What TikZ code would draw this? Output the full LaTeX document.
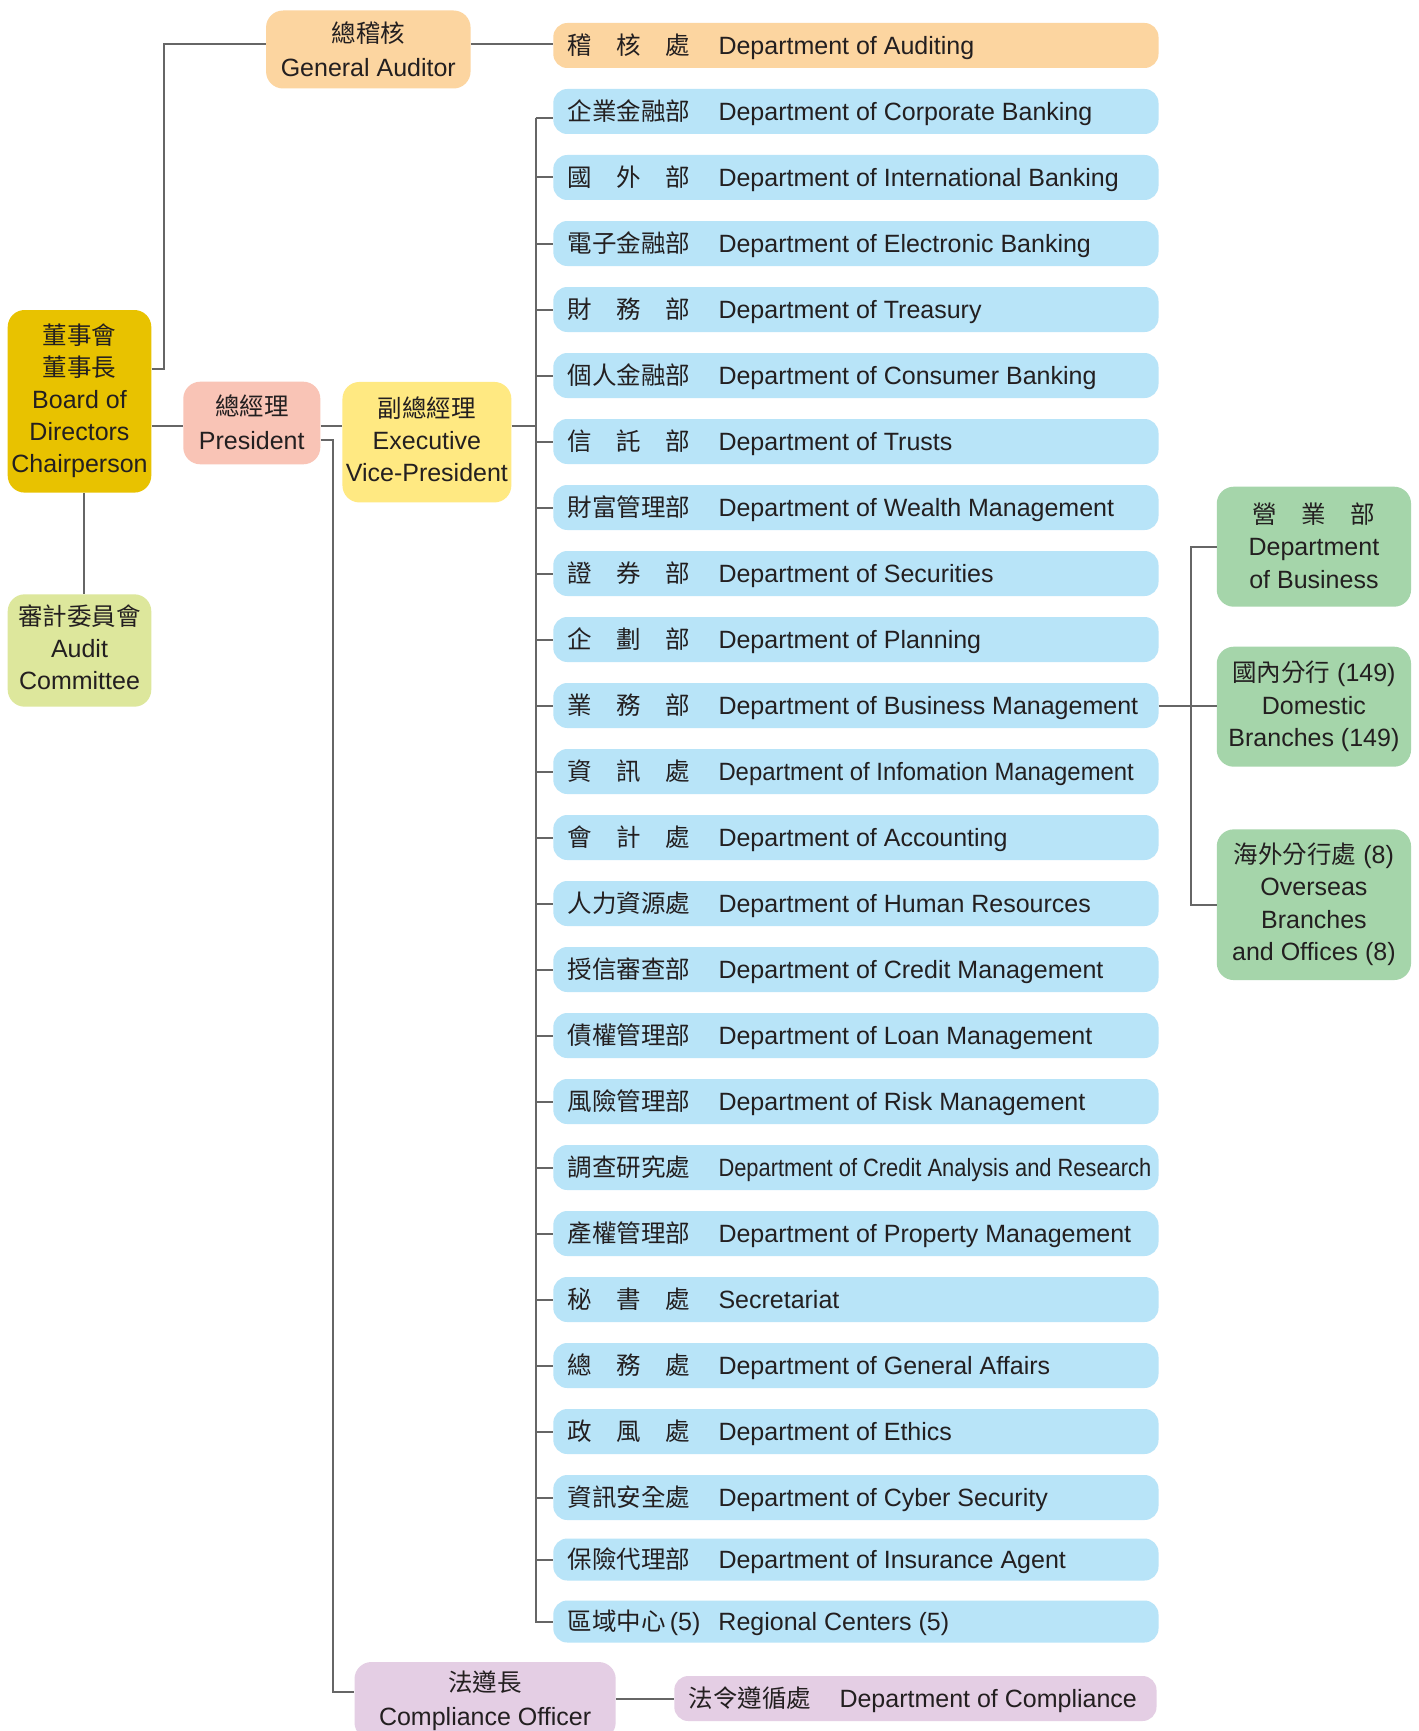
\documentclass[tikz,border=0pt]{standalone}
\usepackage{fontspec}
\usepackage{graphicx}
\setmainfont{Liberation Sans}
\newfontfamily\cjkfont{Noto Sans CJK TC}
\definecolor{tcol}{HTML}{231F20}
\definecolor{lcol}{HTML}{666666}
\definecolor{cBoard}{HTML}{E8C200}
\definecolor{cAC}{HTML}{DDE79C}
\definecolor{cOr}{HTML}{FCD5A0}
\definecolor{cPres}{HTML}{F9C4B6}
\definecolor{cEvp}{HTML}{FFE982}
\definecolor{cBlue}{HTML}{B8E4F8}
\definecolor{cGreen}{HTML}{A5D5AA}
\definecolor{cPur}{HTML}{E4CEE4}
\newcommand\zh[1]{{\cjkfont\fontsize{24.5}{32}\selectfont #1}}
\newcommand\tri[3]{\hbox to 122.5pt{#1\hfil #2\hfil #3}}
\newcommand\drow[3]{\hbox to #1{\hskip14.4pt\hbox to 150.8pt{\zh{#2}\hss}#3\hss}}
\newcommand\st{\rule[-6pt]{0pt}{24pt}}
\newcommand\sth[1]{\rule[-6pt]{0pt}{#1}}
\begin{document}
\begin{tikzpicture}[x=1pt,y=-1pt,
  box/.style={rounded corners=17pt, inner sep=0pt, align=center, text=tcol, font=\fontsize{25}{32}\selectfont},
  dept/.style={fill=cBlue, rounded corners=14pt, minimum width=605.2pt, minimum height=45pt, inner sep=0pt, text height=24pt, text depth=6pt, text=tcol, font=\fontsize{25}{32}\selectfont},
  conn/.style={draw=lcol, line width=2pt}]
\useasboundingbox (0,0) rectangle (1418,1731);
\fill[white] (0,0) rectangle (1418,1731);
\clip (0,0) rectangle (1418,1731);

% left column
\node[box, fill=cBoard, minimum width=143.6pt, minimum height=182.6pt] (board) at (79.5,401.3)
  {\st\zh{董事會}\\\st\zh{董事長}\\\st Board of\\\st Directors\\\st Chairperson};
\node[box, fill=cAC, minimum width=143.6pt, minimum height=112.4pt] (ac) at (79.5,650.5)
  {\st\zh{審計委員會}\\\st Audit\\\st Committee};
\node[box, fill=cOr, minimum width=204.5pt, minimum height=78pt, font=\fontsize{25}{34}\selectfont] (ga) at (368.3,49.5)
  {\sth{33pt}\zh{總稽核}\\\st General Auditor};
\node[box, fill=cPres, minimum width=137pt, minimum height=82.6pt, font=\fontsize{25}{34}\selectfont] (pres) at (251.8,423)
  {\sth{30pt}\zh{總經理}\\\st President};
\node[box, fill=cEvp, minimum width=168.9pt, minimum height=120.5pt] (evp) at (426.9,442.2)
  {\sth{27pt}\zh{副總經理}\\\st Executive\\\st Vice-President};
\node[box, fill=cPur, minimum width=261.2pt, minimum height=77.4pt, font=\fontsize{25}{34}\selectfont] (co) at (485.1,1700.7)
  {\sth{27pt}\zh{法遵長}\\\st Compliance Officer};

% department column
\node[dept, fill=cOr] (aud) at (855.9,45.5) {\drow{605.2pt}{\tri{稽}{核}{處}}{Department of Auditing}};
\node[dept] (d01) at (855.9,111.5) {\drow{605.2pt}{企業金融部}{Department of Corporate Banking}};
\node[dept] (d02) at (855.9,177.5) {\drow{605.2pt}{\tri{國}{外}{部}}{Department of International Banking}};
\node[dept] (d03) at (855.9,243.5) {\drow{605.2pt}{電子金融部}{Department of Electronic Banking}};
\node[dept] (d04) at (855.9,309.5) {\drow{605.2pt}{\tri{財}{務}{部}}{Department of Treasury}};
\node[dept] (d05) at (855.9,375.5) {\drow{605.2pt}{個人金融部}{Department of Consumer Banking}};
\node[dept] (d06) at (855.9,441.5) {\drow{605.2pt}{\tri{信}{託}{部}}{Department of Trusts}};
\node[dept] (d07) at (855.9,507.5) {\drow{605.2pt}{財富管理部}{Department of Wealth Management}};
\node[dept] (d08) at (855.9,573.5) {\drow{605.2pt}{\tri{證}{券}{部}}{Department of Securities}};
\node[dept] (d09) at (855.9,639.5) {\drow{605.2pt}{\tri{企}{劃}{部}}{Department of Planning}};
\node[dept] (d10) at (855.9,705.5) {\drow{605.2pt}{\tri{業}{務}{部}}{Department of Business Management}};
\node[dept] (d11) at (855.9,771.5) {\drow{605.2pt}{\tri{資}{訊}{處}}{\scalebox{0.955}[1]{Department of Infomation Management}}};
\node[dept] (d12) at (855.9,837.5) {\drow{605.2pt}{\tri{會}{計}{處}}{Department of Accounting}};
\node[dept] (d13) at (855.9,903.5) {\drow{605.2pt}{人力資源處}{Department of Human Resources}};
\node[dept] (d14) at (855.9,969.5) {\drow{605.2pt}{授信審查部}{Department of Credit Management}};
\node[dept] (d15) at (855.9,1035.5) {\drow{605.2pt}{債權管理部}{Department of Loan Management}};
\node[dept] (d16) at (855.9,1101.5) {\drow{605.2pt}{風險管理部}{Department of Risk Management}};
\node[dept] (d17) at (855.9,1167.5) {\drow{605.2pt}{調查研究處}{\scalebox{0.875}[1]{Department of Credit Analysis and Research}}};
\node[dept] (d18) at (855.9,1233.5) {\drow{605.2pt}{產權管理部}{Department of Property Management}};
\node[dept] (d19) at (855.9,1299.5) {\drow{605.2pt}{\tri{秘}{書}{處}}{Secretariat}};
\node[dept] (d20) at (855.9,1365.5) {\drow{605.2pt}{\tri{總}{務}{處}}{Department of General Affairs}};
\node[dept] (d21) at (855.9,1431.5) {\drow{605.2pt}{\tri{政}{風}{處}}{Department of Ethics}};
\node[dept] (d22) at (855.9,1497.5) {\drow{605.2pt}{資訊安全處}{Department of Cyber Security}};
\node[dept, minimum height=42pt] (d23) at (855.9,1559.5) {\drow{605.2pt}{保險代理部}{Department of Insurance Agent}};
\node[dept, minimum height=42pt] (d24) at (855.9,1621.5) {\drow{605.2pt}{區域中心\,{\fontsize{25}{32}\selectfont\rmfamily(5)}}{Regional Centers (5)}};
\node[dept, fill=cPur, minimum width=482.2pt] (comp) at (915.4,1698.5) {\drow{482.2pt}{法令遵循處}{Department of Compliance}};

% right column
\node[box, fill=cGreen, minimum width=194.3pt, minimum height=120pt, font=\fontsize{25}{32.3}\selectfont] (bus) at (1313.9,546.7)
  {\sth{30pt}\zh{\tri{營}{業}{部}}\\\st Department\\\st of Business};
\node[box, fill=cGreen, minimum width=194.3pt, minimum height=120pt, font=\fontsize{25}{32.3}\selectfont] (dom) at (1313.9,706.7)
  {\sth{26pt}\zh{國內分行} (149)\\\st Domestic\\\st Branches (149)};
\node[box, fill=cGreen, minimum width=194.3pt, minimum height=150.7pt, font=\fontsize{25}{32.3}\selectfont] (ovs) at (1313.9,904.7)
  {\sth{26pt}\zh{海外分行處} (8)\\\st Overseas\\\st Branches\\\st and Offices (8)};

% connectors
\coordinate (bx) at (84,0);
\draw[conn] (board.south -| bx) -- (ac.north -| bx);
\coordinate (g1) at (163.5,369);
\coordinate (g2) at (163.5,44);
\draw[conn] (board.east |- g1) -- (g1) -- (g2) -- (ga.west |- g2);
\draw[conn] (ga.east |- g2) -- (aud.west |- g2);
\coordinate (h1) at (0,426);
\coordinate (tt) at (535.5,118);
\draw[conn] (board.east |- h1) -- (pres.west |- h1);
\draw[conn] (pres.east |- h1) -- (evp.west |- h1);
\draw[conn] (evp.east |- h1) -- (tt |- h1);
\draw[conn] (tt) -- (tt |- d24.west) -- (d24.west);
\draw[conn] (tt) -- (d01.west |- tt);
\foreach \n in {d02,d03,d04,d05,d06,d07,d08,d09,d10,d11,d12,d13,d14,d15,d16,d17,d18,d19,d20,d21,d22,d23}
  \draw[conn] (\n.west -| tt) -- (\n.west);
\coordinate (p1) at (332.6,440);
\coordinate (p2) at (332.6,1691.7);
\draw[conn] (pres.east |- p1) -- (p1) -- (p2) -- (co.west |- p2);
\draw[conn] (co.east |- comp.west) -- (comp.west);
\coordinate (rv) at (1190.6,0);
\draw[conn] (d10.east) -- (dom.west |- d10.east);
\draw[conn] (bus.west) -- (bus.west -| rv) -- (ovs.west -| rv) -- (ovs.west);
\end{tikzpicture}
\end{document}
